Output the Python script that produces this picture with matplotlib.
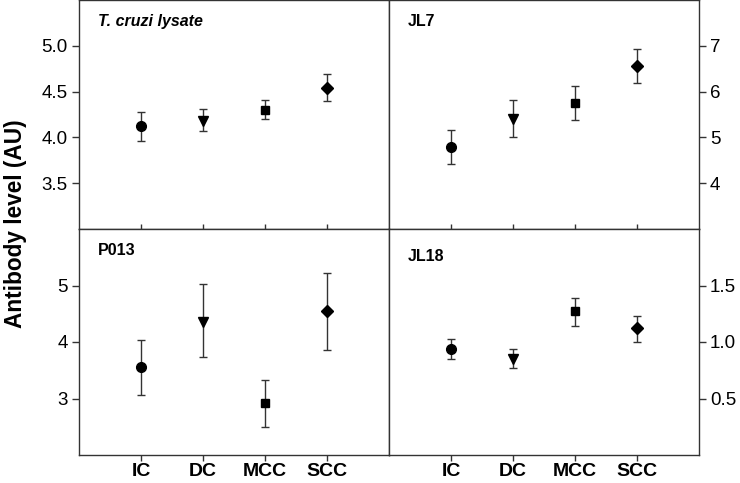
import numpy as np
import matplotlib
matplotlib.use("Agg")
import matplotlib.pyplot as plt

plt.rcParams['font.family'] = ['Liberation Sans', 'DejaVu Sans']

groups = ['IC', 'DC', 'MCC', 'SCC']
markers = ['o', 'v', 's', 'D']
msizes = [7, 7, 5.5, 6]

# T. cruzi lysate
lysate_mean = [4.12, 4.18, 4.30, 4.54]
lysate_lo = [3.96, 4.07, 4.20, 4.40]
lysate_hi = [4.28, 4.31, 4.41, 4.69]

# JL7
jl7_mean = [4.79, 5.40, 5.75, 6.56]
jl7_lo = [4.42, 5.01, 5.37, 6.18]
jl7_hi = [5.16, 5.82, 6.12, 6.93]

# P013
p013_mean = [3.56, 4.36, 2.92, 4.54]
p013_lo = [3.06, 3.73, 2.50, 3.85]
p013_hi = [4.03, 5.02, 3.33, 5.23]

# JL18
jl18_mean = [0.94, 0.85, 1.27, 1.12]
jl18_lo = [0.85, 0.77, 1.14, 1.00]
jl18_hi = [1.03, 0.94, 1.39, 1.23]

panels = [
    ('T. cruzi lysate', lysate_mean, lysate_lo, lysate_hi, (3.0, 5.5), [3.5, 4.0, 4.5, 5.0], '%.1f'),
    ('JL7', jl7_mean, jl7_lo, jl7_hi, (3, 8), [4, 5, 6, 7], '%d'),
    ('P013', p013_mean, p013_lo, p013_hi, (2, 6), [3, 4, 5], '%d'),
    ('JL18', jl18_mean, jl18_lo, jl18_hi, (0, 2), [0.5, 1.0, 1.5], '%.1f'),
]

fig = plt.figure(figsize=(7.4, 4.83), dpi=100)
W, H = 740.0, 483.0
# panel boxes in pixels: left, top, width, height
boxes = [
    (79, 0, 310, 229),
    (389, 0, 310, 229),
    (79, 229, 310, 226),
    (389, 229, 310, 226),
]

x = np.arange(1, len(groups) + 1)
spine_col = '#333333'

for i, (title, mean, lo, hi, ylim, yticks, fmt) in enumerate(panels):
    l, t, w, h = boxes[i]
    ax = fig.add_axes([l / W, 1 - (t + h) / H, w / W, h / H])
    mean = np.array(mean)
    yerr = [mean - np.array(lo), np.array(hi) - mean]
    for j in range(len(groups)):
        ax.errorbar(x[j], mean[j], yerr=[[yerr[0][j]], [yerr[1][j]]], fmt=markers[j],
                    color='black', ms=msizes[j], ecolor='#333333', elinewidth=1,
                    capsize=3, capthick=1)
    ax.set_xlim(0, 5)
    ax.set_ylim(*ylim)
    ax.set_yticks(yticks)
    ax.set_yticklabels([fmt % v for v in yticks])
    ax.set_xticks(x)
    for s in ax.spines.values():
        s.set_color(spine_col)
        s.set_linewidth(1)
    ax.tick_params(axis='y', direction='out', length=5, width=1, color=spine_col,
                   labelsize=13.5, pad=3)
    if i % 2 == 1:
        ax.yaxis.tick_right()
    if i < 2:
        ax.tick_params(axis='x', direction='inout', length=7, width=1,
                       color=spine_col, labelbottom=False)
    else:
        ax.set_xticklabels(groups, fontsize=14, fontweight='bold')
        ax.tick_params(axis='x', direction='out', length=4, width=1,
                       color=spine_col, pad=2)
    style = 'italic' if i == 0 else 'normal'
    yoff = -20 if i == 3 else -14
    ax.annotate(title, xy=(0, 1), xycoords='axes fraction',
                xytext=(19, yoff), textcoords='offset pixels',
                ha='left', va='top', fontsize=11.5, fontweight='bold',
                fontstyle=style)

fig.text(16 / W, 1 - 224 / H, 'Antibody level (AU)', rotation=90, ha='center',
         va='center', fontsize=16.3, fontweight='bold')

fig.savefig('out.png', dpi=100)
